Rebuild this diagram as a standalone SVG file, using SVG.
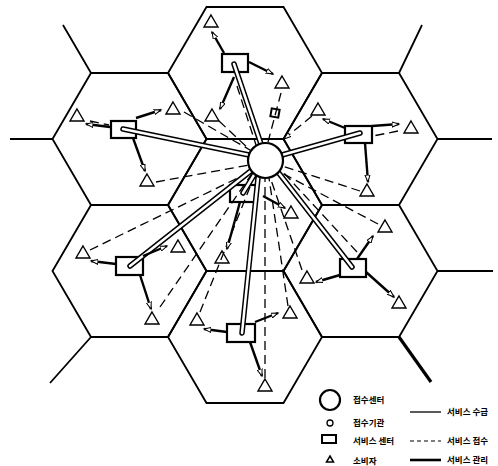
<svg xmlns="http://www.w3.org/2000/svg" width="498" height="466" viewBox="0 0 498 466">
<style>
.hex{fill:none;stroke:#000;stroke-width:1.8;stroke-linejoin:miter}
.svc{fill:#fff;stroke:#000;stroke-width:2.2}
.tri{fill:#fff;stroke:#000;stroke-width:1.4;stroke-linejoin:miter}
.dash{fill:none;stroke:#000;stroke-width:1.3;stroke-dasharray:9 5}
.arr{fill:none;stroke:#000;stroke-width:2.4;marker-end:url(#ah)}
.pipeO{fill:none;stroke:#000;stroke-width:5.5;stroke-linecap:round}
.pipeI{fill:none;stroke:#fff;stroke-width:2.5;stroke-linecap:round}
.lbl{font-family:"Noto Sans CJK KR","Noto Sans",sans-serif;font-weight:bold;font-size:8.5px;fill:#000}
</style>
<defs>
<marker id="ah" markerUnits="userSpaceOnUse" markerWidth="9" markerHeight="7" refX="7" refY="3" orient="auto">
<path d="M0,0.5 L7,3 L0,5.5 z" fill="#fff" stroke="#000" stroke-width="1"/>
</marker>
<path id="tr" d="M0,-12 L7,0 L-7,0 z"/>
</defs>
<rect width="498" height="466" fill="#fff"/>
<g id="grid">
<path class="hex" d="M168,73 L206.5,7 L283.5,7 L322,73 L283.5,139 L206.5,139 Z"/>
<path class="hex" d="M168,205 L206.5,139 L283.5,139 L322,205 L283.5,271 L206.5,271 Z"/>
<path class="hex" d="M168,337 L206.5,271 L283.5,271 L322,337 L283.5,403 L206.5,403 Z"/>
<path class="hex" d="M52.5,139 L91,73 L168,73 L206.5,139 L168,205 L91,205 Z"/>
<path class="hex" d="M52.5,271 L91,205 L168,205 L206.5,271 L168,337 L91,337 Z"/>
<path class="hex" d="M283.5,139 L322,73 L399,73 L437.5,139 L399,205 L322,205 Z"/>
<path class="hex" d="M283.5,271 L322,205 L399,205 L437.5,271 L399,337 L322,337 Z"/>
<path class="hex" d="M91,73 L63,25 M52.5,139 L10,139 M399,73 L422,25 M437.5,139 L492,139 M437.5,271 L493,271 M91,337 L50,383"/>
<path class="hex" style="stroke-width:3.2" d="M399,337 L431,382"/>
</g>
<g id="n-svc-top"><rect class="svc" x="222" y="54" width="26" height="18"/></g>
<g id="n-svc-ul"><rect class="svc" x="111" y="121" width="25" height="17"/></g>
<g id="n-svc-ur"><rect class="svc" x="345" y="126" width="27" height="17"/></g>
<g id="n-svc-c"><rect class="svc" x="230" y="185" width="26" height="17"/></g>
<g id="n-svc-ll"><rect class="svc" x="116" y="257" width="27" height="18"/></g>
<g id="n-svc-lr"><rect class="svc" x="340" y="259" width="26" height="18"/></g>
<g id="n-svc-b"><rect class="svc" x="227" y="324" width="28" height="18"/></g>
<g id="n-agency"><rect x="271" y="109" width="8" height="8" fill="#fff" stroke="#000" stroke-width="2" transform="rotate(10 275 113)"/></g>
<g id="consumers">
<g id="n-t1"><use href="#tr" class="tri" x="211" y="27"/></g>
<g id="n-t2"><use href="#tr" class="tri" x="212" y="121"/></g>
<g id="n-t3"><use href="#tr" class="tri" x="282" y="88"/></g>
<g id="n-t4"><use href="#tr" class="tri" x="77" y="121"/></g>
<g id="n-t5"><use href="#tr" class="tri" x="173" y="114"/></g>
<g id="n-t6"><use href="#tr" class="tri" x="147" y="186"/></g>
<g id="n-t7"><use href="#tr" class="tri" x="318" y="115"/></g>
<g id="n-t8"><use href="#tr" class="tri" x="411" y="133"/></g>
<g id="n-t9"><use href="#tr" class="tri" x="367" y="196"/></g>
<g id="n-t10"><use href="#tr" class="tri" x="291" y="218"/></g>
<g id="n-t11"><use href="#tr" class="tri" x="83" y="258"/></g>
<g id="n-t12"><use href="#tr" class="tri" x="178" y="252"/></g>
<g id="n-t13"><use href="#tr" class="tri" x="152" y="324"/></g>
<g id="n-t14"><use href="#tr" class="tri" x="222" y="263"/></g>
<g id="n-t15"><use href="#tr" class="tri" x="197" y="325"/></g>
<g id="n-t16"><use href="#tr" class="tri" x="385" y="232"/></g>
<g id="n-t17"><use href="#tr" class="tri" x="307" y="283"/></g>
<g id="n-t18"><use href="#tr" class="tri" x="290" y="318"/></g>
<g id="n-t19"><use href="#tr" class="tri" x="399" y="308"/></g>
<g id="n-t20"><use href="#tr" class="tri" x="265" y="391"/></g>
</g>
<g id="connectors">
<g id="reception">
<path class="dash" d="M281,93 L268,142"/>
<path class="dash" d="M237,86 L256,145"/>
<path class="dash" d="M219,121 L250,150"/>
<path class="dash" d="M90,121 L109,125"/>
<path class="dash" d="M184,112 L250,150"/>
<path class="dash" d="M156,182 L249,165"/>
<path class="dash" d="M312,116 L284,139" marker-end="url(#ah)"/>
<path class="dash" d="M398,131 L373,136"/>
<path class="dash" d="M360,191 L282,166"/>
<path class="dash" d="M90,250 L252,171"/>
<path class="dash" d="M160,307 L251,175"/>
<path class="dash" d="M200,312 L254,177"/>
<path class="dash" d="M302,270 L270,177"/>
<path class="dash" d="M378,224 L280,172"/>
<path class="dash" d="M357,252 L283,172"/>
<path class="dash" d="M288,306 L269,178"/>
<path class="dash" d="M265,378 L265,178"/>
</g>
<g id="management">
<path class="pipeO" d="M234,64 L261,144 M123,129 L249,155 M360,133 L282,155 M243,193 L254,175 M130,266 L252,170 M352,267 L278,172 M242,333 L258,178"/>
<path class="pipeI" d="M234,64 L261,144 M123,129 L249,155 M360,133 L282,155 M243,193 L254,175 M130,266 L252,170 M352,267 L278,172 M242,333 L258,178"/>
</g>
<g id="delivery">
<path class="arr" d="M224,53 L212,32"/>
<path class="arr" d="M249,62 L273,74"/>
<path class="arr" d="M234,77 L220,109"/>
<path class="arr" d="M110,127 L86,124"/>
<path class="arr" d="M136,118 L161,110"/>
<path class="arr" d="M133,138 L145,171"/>
<path class="arr" d="M345,128 L323,119"/>
<path class="arr" d="M372,126 L399,124"/>
<path class="arr" d="M365,143 L368,182"/>
<path class="arr" d="M263,196 L285,208"/>
<path class="arr" d="M240,202 L227,249"/>
<path class="arr" d="M116,264 L91,261"/>
<path class="arr" d="M143,256 L167,246"/>
<path class="arr" d="M140,275 L151,309"/>
<path class="arr" d="M340,275 L316,282"/>
<path class="arr" d="M357,259 L373,236"/>
<path class="arr" d="M366,272 L394,297"/>
<path class="arr" d="M227,332 L204,329"/>
<path class="arr" d="M255,322 L278,313"/>
<path class="arr" d="M250,342 L262,376"/>
</g>
</g>
<g id="n-center"><circle cx="265.5" cy="160.5" r="17.5" fill="#fff" stroke="#000" stroke-width="2.2"/></g>
<g id="legend">
<circle cx="330" cy="400" r="10" fill="#fff" stroke="#000" stroke-width="2.2"/>
<circle cx="330" cy="423" r="3" fill="#fff" stroke="#000" stroke-width="1.3"/>
<rect x="322" y="435" width="14" height="8" fill="#fff" stroke="#000" stroke-width="2"/>
<path d="M330,456 L333.5,462 L326.5,462 Z" fill="#fff" stroke="#000" stroke-width="1.5"/>
<text class="lbl" x="353" y="403">접수센터</text>
<text class="lbl" x="353" y="426">접수기관</text>
<text class="lbl" x="353" y="444">서비스 센터</text>
<text class="lbl" x="353" y="464">소비자</text>
<path d="M410,412 L441,412" stroke="#000" stroke-width="1.3"/>
<path d="M410,441 L441,441" stroke="#000" stroke-width="1.2" stroke-dasharray="4 3"/>
<path d="M410,460 L441,460" stroke="#000" stroke-width="2.6"/>
<text class="lbl" x="447" y="415">서비스 수급</text>
<text class="lbl" x="447" y="444">서비스 접수</text>
<text class="lbl" x="447" y="463">서비스 관리</text>
</g>
</svg>
